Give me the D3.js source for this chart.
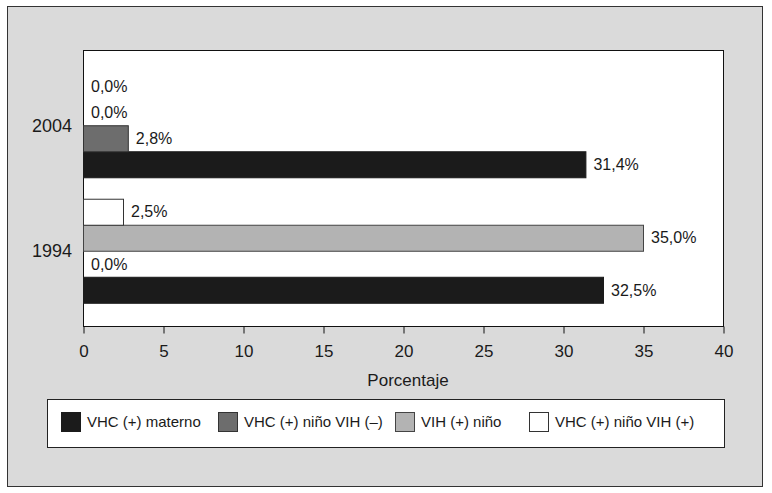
<!DOCTYPE html>
<html>
<head>
<meta charset="utf-8">
<script src="https://cdn.jsdelivr.net/npm/d3@7"></script>
<style>
  html, body { margin: 0; padding: 0; background: #ffffff; }
  svg { display: block; font-family: "Liberation Sans", Arial, sans-serif; }
</style>
</head>
<body>
<svg id="chart" width="772" height="493"></svg>
<script>
// ---- Data ----
const years = ["2004", "1994"];
const seriesNames = ["VHC (+) materno", "VHC (+) niño VIH (–)", "VIH (+) niño", "VHC (+) niño VIH (+)"];
const vhcMaterno = [31.4, 32.5];
const vhcNinoVihNeg = [2.8, 0.0];
const vihNino = [0.0, 35.0];
const vhcNinoVihPos = [0.0, 2.5];
const xTicks = [0, 5, 10, 15, 20, 25, 30, 35, 40];
const xTitle = "Porcentaje";

const seriesValues = [vhcMaterno, vhcNinoVihNeg, vihNino, vhcNinoVihPos];
const fills = ["#1b1b1b", "#6d6d6d", "#b3b3b3", "#ffffff"];
const strokes = ["#1b1b1b", "#333333", "#444444", "#333333"];

const svg = d3.select("#chart");
const textColor = "#1a1a1a";

// outer frame
svg.append("rect").attr("x", 7.5).attr("y", 6.5).attr("width", 755).attr("height", 480)
  .attr("fill", "#dadada").attr("stroke", "#333").attr("stroke-width", 1);

const plot = { left: 83, right: 723, top: 50, bottom: 326 };

const x = d3.scaleLinear().domain([0, 40]).range([plot.left, plot.right]);
const y0 = d3.scaleBand().domain(years).range([plot.top, plot.bottom])
  .paddingInner(0.171).paddingOuter(0.185);
// within a group: top to bottom = last series first
const y1 = d3.scaleBand().domain(d3.range(seriesNames.length).reverse())
  .range([0, y0.bandwidth()]).padding(0);

// plot area
svg.append("rect").attr("x", plot.left + 0.5).attr("y", plot.top + 0.5)
  .attr("width", plot.right - plot.left).attr("height", plot.bottom - plot.top)
  .attr("fill", "#ffffff").attr("stroke", "#111").attr("stroke-width", 1);

// bars
const fmt = v => d3.format(".1f")(v).replace(".", ",") + "%";
years.forEach((yr, gi) => {
  const g = svg.append("g").attr("transform", `translate(0,${y0(yr)})`);
  seriesValues.forEach((vals, si) => {
    const v = vals[gi];
    const by = y1(si);
    if (v > 0) {
      g.append("rect")
        .attr("x", x(0) + 0.5).attr("y", by + 0.5)
        .attr("width", x(v) - x(0)).attr("height", y1.bandwidth())
        .attr("fill", fills[si]).attr("stroke", strokes[si]).attr("stroke-width", 1);
    }
    g.append("text")
      .attr("x", x(v) + 8).attr("y", by + y1.bandwidth() / 2)
      .attr("dy", "0.36em")
      .attr("font-size", 16).attr("fill", textColor)
      .text(fmt(v));
  });
  svg.append("text")
    .attr("x", plot.left - 11).attr("y", y0(yr) + y0.bandwidth() / 2)
    .attr("dy", "0.36em").attr("text-anchor", "end")
    .attr("font-size", 18).attr("fill", textColor)
    .text(yr);
});

// x axis
const xAxis = d3.axisBottom(x).tickValues(xTicks).tickSize(7).tickSizeOuter(0).tickPadding(11)
  .tickFormat(d => d);
const ax = svg.append("g").attr("transform", `translate(0.5,${plot.bottom + 0.5})`).call(xAxis);
ax.select(".domain").remove();
ax.selectAll(".tick line").attr("stroke", "#111");
ax.selectAll(".tick text").attr("font-size", 17).attr("fill", textColor)
  .attr("font-family", "Liberation Sans, Arial, sans-serif");

svg.append("text").attr("x", 408).attr("y", 386).attr("text-anchor", "middle")
  .attr("font-size", 17).attr("fill", textColor).text(xTitle);

// legend
svg.append("rect").attr("x", 47.5).attr("y", 399.5).attr("width", 677).attr("height", 48)
  .attr("fill", "#ffffff").attr("stroke", "#222").attr("stroke-width", 1);
const legendX = [61, 218, 395, 529];
seriesNames.forEach((name, i) => {
  svg.append("rect").attr("x", legendX[i] + 0.5).attr("y", 412.5).attr("width", 19).attr("height", 19)
    .attr("fill", fills[i]).attr("stroke", strokes[i]).attr("stroke-width", 1);
  svg.append("text").attr("x", legendX[i] + 26).attr("y", 427)
    .attr("font-size", 15).attr("fill", textColor).text(name);
});
</script>
</body>
</html>
